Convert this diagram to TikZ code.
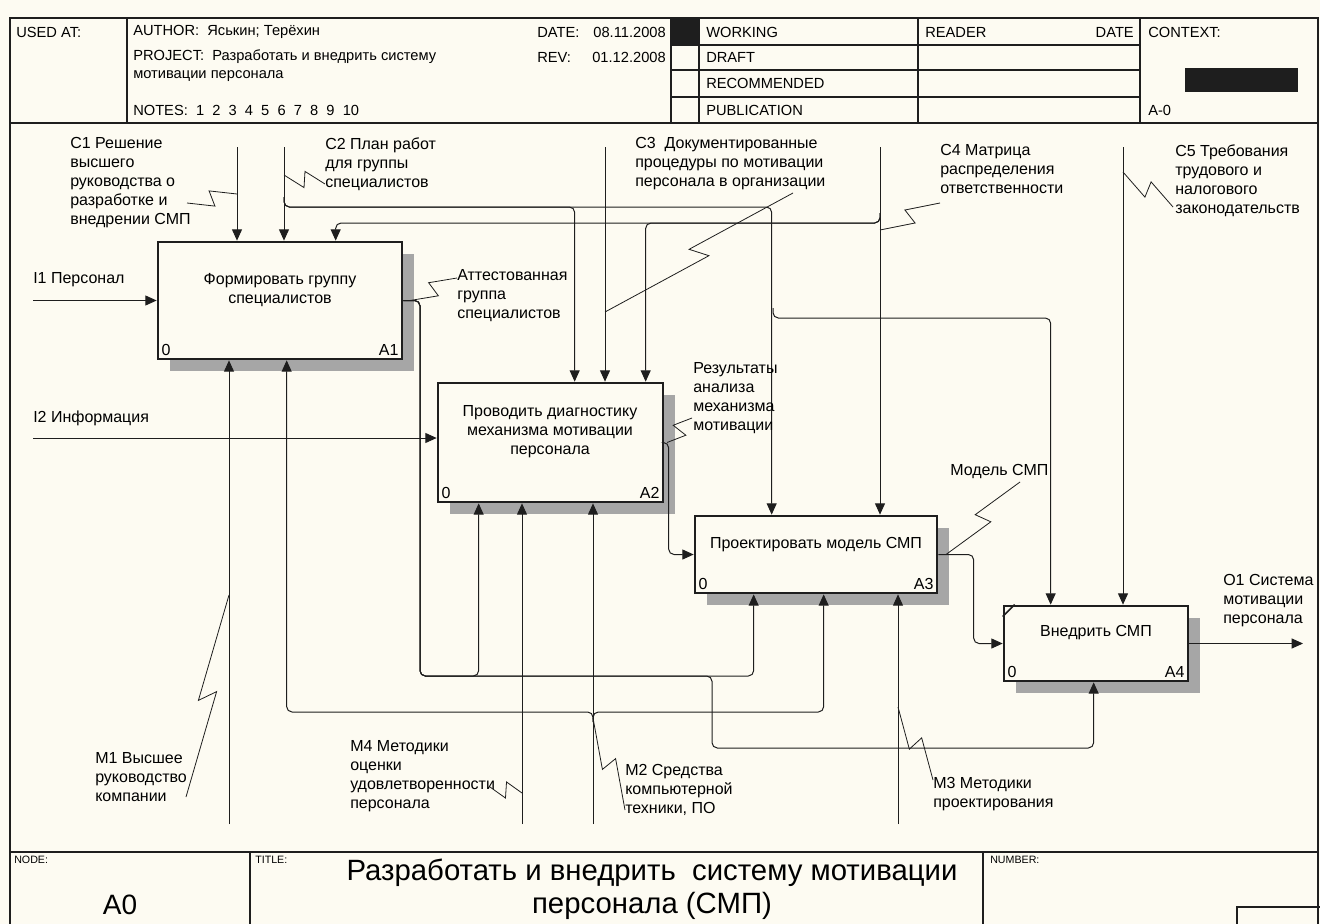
\documentclass[tikz,border=0pt]{standalone}
\usepackage{fontspec}
\setmainfont{Liberation Sans}
\usetikzlibrary{arrows.meta,calc,patterns}
\definecolor{paper}{HTML}{FDFBF2}
\definecolor{ink}{HTML}{1E1E1E}

\begin{document}
\begin{tikzpicture}[
  x=0.75pt,y=-0.75pt,
  font=\fontsize{12}{14.25}\selectfont,
  frame/.style={draw=ink,line width=1.1pt},
  hdr/.style={anchor=west,inner sep=0pt,font=\fontsize{11}{13.5}\selectfont},
  box/.style={draw=ink,line width=2pt,fill=paper,inner sep=0pt,
    preaction={draw=none,fill=black!35,
      transform canvas={shift={(9pt,-9pt)}}}},
  num/.style={inner sep=3.5pt},
  ttl/.style={align=center,inner sep=0pt},
  lbl/.style={align=left,anchor=north west,inner sep=0pt},
  arr/.style={draw=ink,line width=0.75pt,rounded corners=4pt,-{Triangle[length=8.5pt,width=7.5pt]}},
  leader/.style={draw=ink,line width=0.6pt,
    to path={-- ($(\tikztostart)!0.53!(\tikztotarget)!6pt!-90:(\tikztotarget)$)
             -- ($(\tikztostart)!0.47!(\tikztotarget)!6pt!90:(\tikztotarget)$)
             -- (\tikztotarget)}}
]
\path[use as bounding box,fill=paper] (0,0) rectangle (1320,924);

% form
\draw[frame] (10,924) -- (10,18) -- (1318,18) -- (1318,924);
\draw[frame] (10,123) -- (1318,123);
\foreach \x in {127,671,699,918,1140} \draw[frame] (\x,18) -- (\x,123);
\foreach \y in {45,70,97} \draw[frame] (671,\y) -- (1140,\y);
\fill[ink] (671,18) rectangle (699,45);
\fill[ink] (1185,68) rectangle (1298,92);
\draw[frame] (10,852) -- (1318,852);
\foreach \x in {250,983} \draw[frame] (\x,852) -- (\x,924);
\draw[frame] (1237,924) -- (1237,907) -- (1320,907);

\node[hdr] (usedat) at (16,32) {USED AT:};
\node[hdr] (author) at (133,32) {AUTHOR:\ \ Яськин; Терёхин};
\node[hdr,align=left,anchor=north west] (project) at (133,49) {PROJECT:\ \ Разработать и внедрить систему\\мотивации персонала};
\node[hdr] (notes) at (133,110) {NOTES:\ \ 1\ \ 2\ \ 3\ \ 4\ \ 5\ \ 6\ \ 7\ \ 8\ \ 9\ \ 10};
\node[hdr] (datek) at (537,32) {DATE:};
\node[hdr,anchor=east] (datev) at (666,32) {08.11.2008};
\node[hdr] (revk) at (537,57) {REV:};
\node[hdr,anchor=east] (revv) at (666,57) {01.12.2008};
\node[hdr] (working) at (706,32) {WORKING};
\node[hdr] (draft) at (706,57) {DRAFT};
\node[hdr] (recomm) at (706,83) {RECOMMENDED};
\node[hdr] (public) at (706,110) {PUBLICATION};
\node[hdr] (reader) at (925,32) {READER};
\node[hdr,anchor=east] (rdate) at (1134,32) {DATE};
\node[hdr] (context) at (1148,32) {CONTEXT:};
\node[hdr] (ctxnode) at (1148,110) {A-0};

\node[hdr,font=\fontsize{8}{9}\selectfont] (nodek) at (14,860) {NODE:};
\node[hdr,font=\fontsize{8}{9}\selectfont] (titlek) at (255,860) {TITLE:};
\node[hdr,font=\fontsize{8}{9}\selectfont] (numberk) at (990,860) {NUMBER:};
\node[inner sep=0pt,font=\fontsize{21}{24}\selectfont] (nodev) at (120,905) {A0};
\node[ttl,font=\fontsize{22}{24.75}\selectfont] (titlev) at (652,889) {Разработать и внедрить\ \ систему мотивации\\персонала (СМП)};

% activities
\node[box,minimum width=183pt,minimum height=87.75pt,
  label={[num,anchor=south west]south west:0},label={[num,anchor=south east]south east:A1}] (a1) at (280,300.5) {};
\node[box,minimum width=168.75pt,minimum height=89.25pt,
  label={[num,anchor=south west]south west:0},label={[num,anchor=south east]south east:A2}] (a2) at (550.5,442.5) {};
\node[box,minimum width=181.5pt,minimum height=57.75pt,
  label={[num,anchor=south west]south west:0},label={[num,anchor=south east]south east:A3}] (a3) at (816,554.5) {};
\node[box,minimum width=138pt,minimum height=56.25pt,
  label={[num,anchor=south west]south west:0},label={[num,anchor=south east]south east:A4}] (a4) at (1096,643.5) {};
\draw[ink,line width=1.2pt] ($(a4.north west)+(0,12)$) -- ($(a4.north west)+(12,0)$);

\node[ttl] (a1t) at (280,290) {Формировать группу\\специалистов};
\node[ttl] (a2t) at (550,432) {Проводить диагностику\\механизма мотивации\\персонала};
\node[ttl] (a3t) at (816,545) {Проектировать модель СМП};
\node[ttl] (a4t) at (1096,633) {Внедрить СМП};

% boundary ends
\coordinate (c1) at (237,147);
\coordinate (c2) at (284,147);
\coordinate (c3) at (605,147);
\coordinate (c4) at (880,147);
\coordinate (c5) at (1123,147);
\coordinate (i1) at (33,300.5);
\coordinate (i2) at (33,438);
\coordinate (o1) at (1303,643.5);
\coordinate (m1) at (229,824);
\coordinate (m4) at (522,824);
\coordinate (m2) at (593,824);
\coordinate (m3) at (898,824);
\coordinate (c2b) at (284,197);
\coordinate (c2c) at (773,308);
\coordinate (c4b) at (880,213);
\coordinate (m2b) at (593,722);

% controls
\draw[arr] (c1) -- (c1 |- a1.north);
\draw[arr] (c2) -- (c2 |- a1.north);
\draw[arr] (c2b) -- ++(0,10) -| ($(a2.north west)+(138,0)$);
\draw[arr] (c2b) -- ++(0,10) -| ($(a3.north west)+(78,0)$);
\draw[arr] (c2c) -- ++(0,10) -| ($(a4.north west)+(48,0)$);
\draw[arr] (c3) -- (c3 |- a2.north);
\draw[arr] (c4) -- (c4 |- a3.north);
\draw[arr] (c4b) -- ++(0,10) -| ($(a2.north west)+(209,0)$);
\draw[arr] (c4b) -- ++(0,10) -| ($(a1.north west)+(179,0)$);
\draw[arr] (c5) -- (c5 |- a4.north);

% inputs and outputs
\draw[arr] (i1) -- (i1 -| a1.west);
\draw[arr] (i2) -- (i2 -| a2.west);
\draw[arr] (a2.east) -| ($(a3.west)+(-25,0)$) -- (a3.west);
\draw[arr] (a3.east) -| ($(a4.west)+(-29,0)$) -- (a4.west);
\draw[arr] (o1 -| a4.east) -- (o1);
\draw[arr] (a1.east) -| (420,676) -| ($(a2.south west)+(42,0)$);
\draw[arr] (a1.east) -| (420,676) -| ($(a3.south west)+(60,0)$);
\draw[arr] (a1.east) -| (420,676) -| (712,748) -| ($(a4.south west)+(91,0)$);

% mechanisms
\draw[arr] (m1) -- (m1 |- a1.south);
\draw[arr] (m4) -- (m4 |- a2.south);
\draw[arr] (m2) -- (m2 |- a2.south);
\draw[arr] (m2b) -- ++(0,-10) -| ($(a1.south west)+(130,0)$);
\draw[arr] (m2b) -- ++(0,-10) -| ($(a3.south west)+(130,0)$);
\draw[arr] (m3) -- (m3 |- a3.south);

% arrow labels
\node[lbl] (c1txt) at (70,137) {C1 Решение\\высшего\\руководства о\\разработке и\\внедрении СМП};
\node[lbl] (c2txt) at (325,137) {C2 План работ\\для группы\\специалистов};
\node[lbl] (c3txt) at (635,137) {C3\ \ Документированные\\процедуры по мотивации\\персонала в организации};
\node[lbl] (c4txt) at (940,144) {C4 Матрица\\распределения\\ответственности};
\node[lbl] (c5txt) at (1175,144) {C5 Требования\\трудового и\\налогового\\законодательств};
\node[lbl,anchor=west] (i1txt) at (33,280) {I1 Персонал};
\node[lbl,anchor=west] (i2txt) at (33,418) {I2 Информация};
\node[lbl] (o1txt) at (1223,574) {O1 Система\\мотивации\\персонала};
\node[lbl] (a1out) at (457,269) {Аттестованная\\группа\\специалистов};
\node[lbl] (a2out) at (693,362) {Результаты\\анализа\\механизма\\мотивации};
\node[lbl,anchor=west] (a3out) at (950,472) {Модель СМП};
\node[lbl] (m1txt) at (95,752) {M1 Высшее\\руководство\\компании};
\node[lbl] (m4txt) at (350,740) {M4 Методики\\оценки\\удовлетворенности\\персонала};
\node[lbl] (m2txt) at (625,764) {M2 Средства\\компьютерной\\техники, ПО};
\node[lbl] (m3txt) at (933,777) {M3 Методики\\проектирования};

% squiggles
\coordinate (c1l) at (187,203);  \coordinate (c1p) at (237,194);
\coordinate (c2l) at (325,184);  \coordinate (c2p) at (284,175);
\coordinate (c3l) at (793,193);  \coordinate (c3p) at (605,312);
\coordinate (c4l) at (940,203);  \coordinate (c4p) at (880,230);
\coordinate (c5l) at (1173,207); \coordinate (c5p) at (1123,172);
\coordinate (a1l) at (457,278);  \coordinate (a1p) at (410,300.5);
\coordinate (a2l) at (692,418);  \coordinate (a2p) at (667,442.5);
\coordinate (a3l) at (1020,482); \coordinate (a3p) at (946,554.5);
\coordinate (m1l) at (186,797);  \coordinate (m1p) at (229,595);
\coordinate (m4l) at (490,787);  \coordinate (m4p) at (522,793);
\coordinate (m2l) at (625,810);  \coordinate (m2p) at (593,718);
\coordinate (m3l) at (933,780);  \coordinate (m3p) at (898,707);
\foreach \s in {c1,c2,c3,c4,c5,a1,a2,a3,m1,m4,m2,m3}
  \draw[leader] (\s l) to (\s p);
\end{tikzpicture}
\end{document}
